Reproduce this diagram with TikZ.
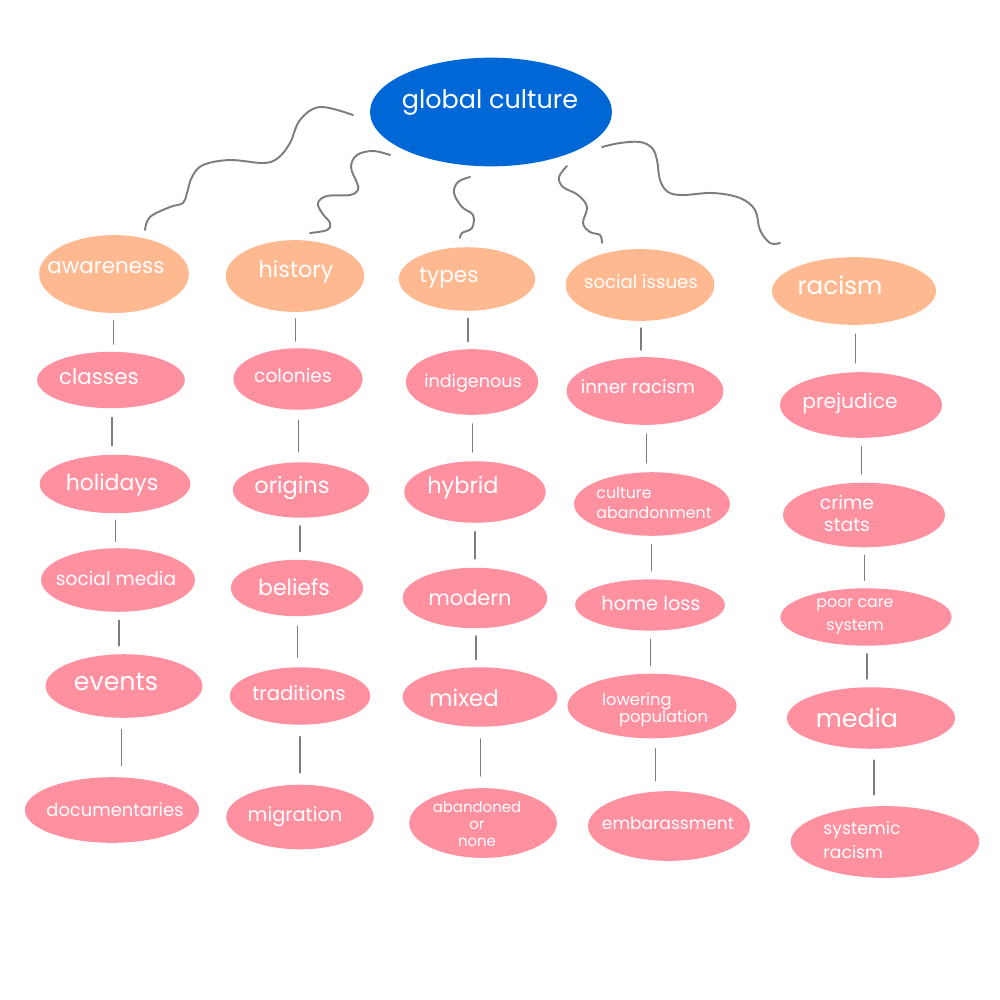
\documentclass[tikz,border=0pt]{standalone}
\usepackage{fontspec}
\setmainfont{Poppins}
\usetikzlibrary{shapes.geometric,calc}
\definecolor{gcblue}{RGB}{0,104,214}
\definecolor{peach}{RGB}{255,185,144}
\definecolor{blobpink}{RGB}{255,144,160}
\definecolor{linegray}{RGB}{125,125,125}
\tikzset{
  blob/.style 2 args={ellipse, inner sep=0pt, outer sep=0pt,
    minimum width=#1*0.205mm, minimum height=#2*0.205mm},
  gcnode/.style 2 args={blob={#1}{#2}, fill=gcblue},
  catnode/.style 2 args={blob={#1}{#2}, fill=peach},
  leaf/.style 2 args={blob={#1}{#2}, fill=blobpink},
  lbl/.style 2 args={text=white, inner sep=0pt, align=center, font=\fontsize{#1}{#2}\selectfont},
  squig/.style={draw=linegray, line width=1.1pt, line cap=round},
  tickline/.style={draw=linegray, line width=1pt, line cap=round},
}
\newcommand{\tickbetween}[2]{%
  \draw[tickline] let \p1=($(#1.south)!0.2!(#2.north)$), \p2=($(#1.south)!0.8!(#2.north)$) in (\x1,\y1) -- (\x1,\y2);}
\begin{document}
\begin{tikzpicture}[x=0.2mm, y=-0.2mm]
\useasboundingbox (0,0) rectangle (1000,1000);
\fill[white] (0,0) rectangle (1000,1000);

% root
\node[gcnode={236}{106}] (gc) at (491,112) {};
\node[lbl={14.5}{16}] (gc-t) at (490,103) {global culture};

% categories
\node[catnode={146}{76}] (aw) at (114,274) {};
\node[lbl={12.2}{14}] (aw-t) at (106,268) {awareness};
\node[catnode={135}{70}] (hi) at (295,276) {};
\node[lbl={12.7}{14}] (hi-t) at (296,272) {history};
\node[catnode={133}{62}] (ty) at (467,279) {};
\node[lbl={12.3}{14}] (ty-t) at (449,278) {types};
\node[catnode={145}{70}] (si) at (640,285) {};
\node[lbl={10.3}{12}] (si-t) at (641,282) {social issues};
\node[catnode={160}{66}] (ra) at (854,291) {};
\node[lbl={14}{15}] (ra-t) at (840,285) {racism};

% column 1
\node[leaf={144}{55}] (c1a) at (111,380) {};
\node[lbl={12.2}{13}] (c1a-t) at (99,377) {classes};
\node[leaf={147}{57}] (c1b) at (115,484) {};
\node[lbl={12.5}{13}] (c1b-t) at (112,485) {holidays};
\node[leaf={150}{62}] (c1c) at (118,580) {};
\node[lbl={10.6}{12}] (c1c-t) at (116,578) {social media};
\node[leaf={153}{62}] (c1d) at (124,686) {};
\node[lbl={14.4}{15}] (c1d-t) at (116,682) {events};
\node[leaf={170}{64}] (c1e) at (112,810) {};
\node[lbl={10.2}{12}] (c1e-t) at (115,810) {documentaries};

% column 2
\node[leaf={126}{60}] (c2a) at (298,379) {};
\node[lbl={10.6}{12}] (c2a-t) at (293,375) {colonies};
\node[leaf={133}{54}] (c2b) at (301,490) {};
\node[lbl={12.8}{14}] (c2b-t) at (292,488) {origins};
\node[leaf={129}{55}] (c2c) at (297,588) {};
\node[lbl={12.5}{14}] (c2c-t) at (294,587) {beliefs};
\node[leaf={137}{56}] (c2d) at (300,696) {};
\node[lbl={11.2}{12}] (c2d-t) at (299,693) {traditions};
\node[leaf={144}{63}] (c2e) at (300,817) {};
\node[lbl={11}{12}] (c2e-t) at (295,817) {migration};

% column 3
\node[leaf={129}{64}] (c3a) at (472,382) {};
\node[lbl={10}{12}] (c3a-t) at (473,383) {indigenous};
\node[leaf={138}{60}] (c3b) at (475,492) {};
\node[lbl={12.8}{14}] (c3b-t) at (463,488) {hybrid};
\node[leaf={141}{59}] (c3c) at (475,598) {};
\node[lbl={11.9}{13}] (c3c-t) at (470,598) {modern};
\node[leaf={151}{58}] (c3d) at (480,697) {};
\node[lbl={13}{14}] (c3d-t) at (464,698) {mixed};
\node[leaf={144}{68}] (c3e) at (483,823) {};
\node[lbl={8.5}{9.6}] (c3e-t) at (477,824) {abandoned\\or\\none};

% column 4
\node[leaf={153}{66}] (c4a) at (645,391) {};
\node[lbl={10.4}{12}] (c4a-t) at (638,387) {inner racism};
\node[leaf={152}{62}] (c4b) at (652,504) {};
\node[lbl={9}{11.4}, align=left] (c4b-t) at (654,503) {culture\\abandonment};
\node[leaf={146}{50}] (c4c) at (650,605) {};
\node[lbl={11}{12}] (c4c-t) at (651,603) {home loss};
\node[leaf={165}{63}] (c4d) at (652,706) {};
\node[lbl={9.3}{9.8}, align=left] (c4d-t) at (655,710) {lowering\\\hspace*{3.4mm}population};
\node[leaf={158}{68}] (c4e) at (669,826) {};
\node[lbl={9.7}{11}] (c4e-t) at (668,823) {embarassment};

% column 5
\node[leaf={158}{64}] (c5a) at (861,405) {};
\node[lbl={11.5}{13}] (c5a-t) at (850,403) {prejudice};
\node[leaf={158}{63}] (c5b) at (864,515) {};
\node[lbl={10.7}{12.5}] (c5b-t) at (847,513) {crime\\stats};
\node[leaf={167}{56}] (c5c) at (866,617) {};
\node[lbl={9}{13}] (c5c-t) at (855,617) {poor care\\system};
\node[leaf={164}{60}] (c5d) at (871,718) {};
\node[lbl={14.4}{15}] (c5d-t) at (857,718) {media};
\node[leaf={184}{70}] (c5e) at (885,842) {};
\node[lbl={9.8}{14}, align=left] (c5e-t) at (862,840) {systemic\\racism};

% short ticks
\tickbetween{aw}{c1a}\tickbetween{c1a}{c1b}\tickbetween{c1b}{c1c}\tickbetween{c1c}{c1d}\tickbetween{c1d}{c1e}
\tickbetween{hi}{c2a}\tickbetween{c2a}{c2b}\tickbetween{c2b}{c2c}\tickbetween{c2c}{c2d}\tickbetween{c2d}{c2e}
\tickbetween{ty}{c3a}\tickbetween{c3a}{c3b}\tickbetween{c3b}{c3c}\tickbetween{c3c}{c3d}\tickbetween{c3d}{c3e}
\tickbetween{si}{c4a}\tickbetween{c4a}{c4b}\tickbetween{c4b}{c4c}\tickbetween{c4c}{c4d}\tickbetween{c4d}{c4e}
\tickbetween{ra}{c5a}\tickbetween{c5a}{c5b}\tickbetween{c5b}{c5c}\tickbetween{c5c}{c5d}\tickbetween{c5d}{c5e}

% squiggle connectors (free ends near the nodes)
\coordinate (s1a) at (353,115); \coordinate (s1b) at (145,230);
\coordinate (s2a) at (390,155); \coordinate (s2b) at (310,233);
\coordinate (s3a) at (470,177); \coordinate (s3b) at (460,238);
\coordinate (s4a) at (567,166); \coordinate (s4b) at (602,243);
\coordinate (s5a) at (602,147); \coordinate (s5b) at (780,243);

\draw[squig] plot[smooth, tension=0.6] coordinates {(s1a) (320,107) (300,120) (290,143) (278,158) (263,163) (230,160) (203,165) (192,177) (187,193) (183,203) (170,207) (150,217) (s1b)};
\draw[squig] plot[smooth, tension=0.6] coordinates {(s2a) (373,151) (357,155) (351,167) (357,183) (358,190) (350,195) (327,196) (318,203) (322,213) (330,223) (327,230) (s2b)};
\draw[squig] plot[smooth, tension=0.6] coordinates {(s3a) (458,182) (454,193) (462,207) (473,215) (472,228) (462,233) (s3b)};
\draw[squig] plot[smooth, tension=0.6] coordinates {(s4a) (559,177) (563,187) (578,195) (587,207) (583,223) (590,232) (600,235) (s4b)};
\draw[squig] plot[smooth, tension=0.6] coordinates {(s5a) (620,143) (640,142) (652,148) (657,160) (660,180) (668,192) (683,195) (713,193) (740,198) (755,210) (760,230) (770,243) (s5b)};
\end{tikzpicture}
\end{document}
